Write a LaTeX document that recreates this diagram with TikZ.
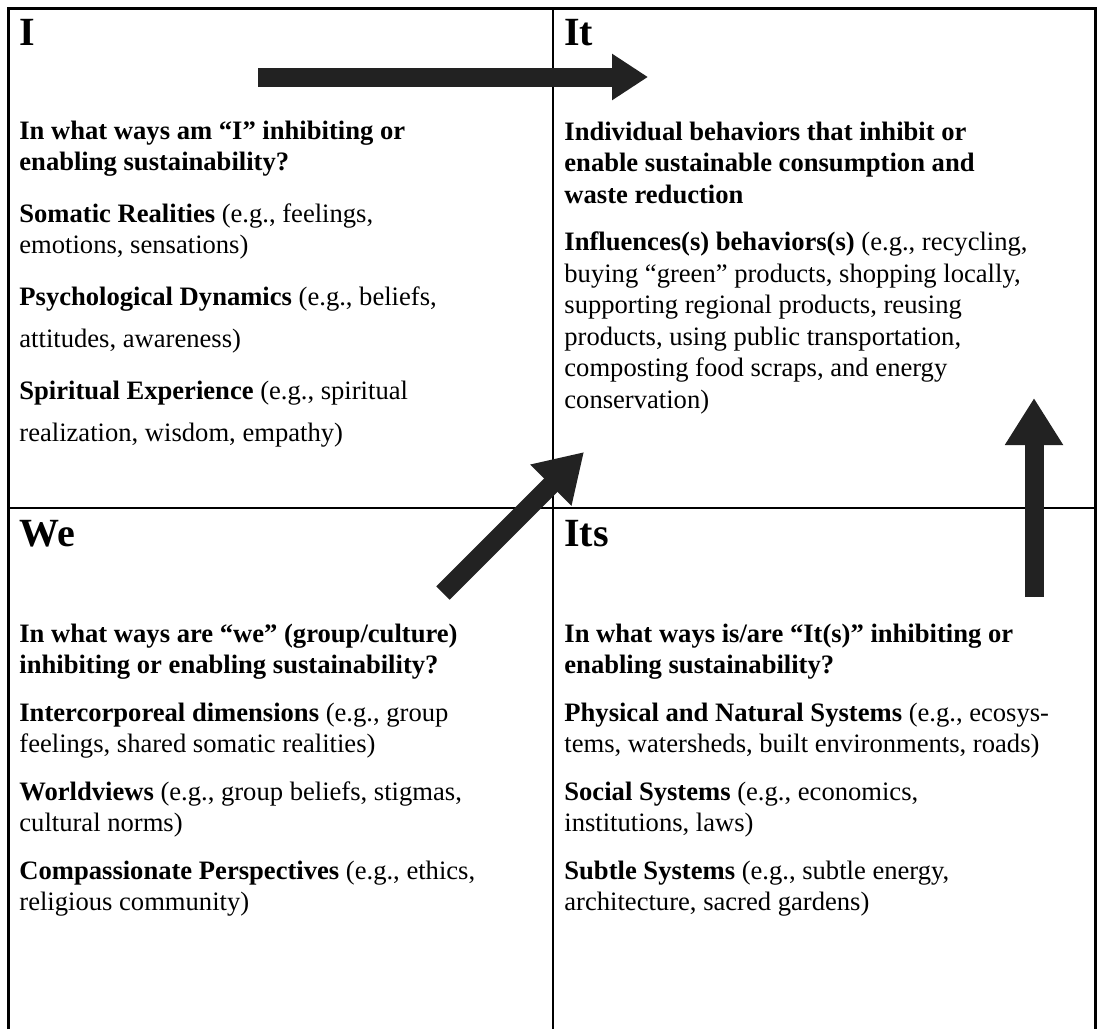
\documentclass[tikz,border=0pt]{standalone}
\usepackage{fontspec}
\setmainfont{Liberation Serif}
\usepackage{xcolor}
\usetikzlibrary{arrows.meta}

\definecolor{arrowgray}{HTML}{222222}

\begin{document}
\begin{tikzpicture}[
      x=0.5pt, y=-0.5pt,
      frame/.style   = {line width=1.5pt, line join=miter},
      divider/.style = {line width=1.2pt},
      title/.style   = {anchor=base west, inner sep=0pt,
                        font=\fontsize{20}{24}\selectfont\bfseries},
      body/.style    = {anchor=north west, inner sep=0pt, align=left,
                        font=\fontsize{13.3}{15.75}\selectfont},
      bigarrow/.style = {draw=arrowgray, fill=arrowgray, line width=9.5pt,
                         -{Triangle[length=23.5pt, width=27.5pt]}}
    ]
    \useasboundingbox (0,0) rectangle (1101,1029);

    % grid of the four quadrants
    \draw[frame]   (8,1029) -- (8,8) -- (1095,8) -- (1095,1029);
    \draw[divider] (553,8) -- (553,1029);
    \draw[divider] (8,508) -- (1095,508);

    % quadrant titles
    \node[title] (tI)   at (19,45)   {I};
    \node[title] (tIt)  at (564,45)  {It};
    \node[title] (tWe)  at (19,546)  {We};
    \node[title] (tIts) at (564,546) {Its};

    % quadrant texts
    \node[body] (bI) at (19,117) {\rule{0pt}{11pt}\textbf{In what ways am “I” inhibiting or}\\
        \textbf{enabling sustainability?}\\[10pt]
        \textbf{Somatic Realities} (e.g., feelings,\\
        emotions, sensations)\\[10pt]
        \textbf{Psychological Dynamics} (e.g., beliefs,\\[5.5pt]
        attitudes, awareness)\\[10pt]
        \textbf{Spiritual Experience} (e.g., spiritual\\[5.5pt]
        realization, wisdom, empathy)};
    \node[body] (bIt) at (564,118) {\rule{0pt}{11pt}\textbf{Individual behaviors that inhibit or}\\
        \textbf{enable sustainable consumption and}\\
        \textbf{waste reduction}\\[8pt]
        \textbf{Influences(s) behaviors(s)} (e.g., recycling,\\
        buying “green” products, shopping locally,\\
        supporting regional products, reusing\\
        products, using public transportation,\\
        composting food scraps, and energy\\
        conservation)};
    \node[body] (bWe) at (19,620) {\rule{0pt}{11pt}\textbf{In what ways are “we” (group/culture)}\\
        \textbf{inhibiting or enabling sustainability?}\\[8pt]
        \textbf{Intercorporeal dimensions} (e.g., group\\
        feelings, shared somatic realities)\\[8pt]
        \textbf{Worldviews} (e.g., group beliefs, stigmas,\\
        cultural norms)\\[8pt]
        \textbf{Compassionate Perspectives} (e.g., ethics,\\
        religious community)};
    \node[body] (bIts) at (564,620) {\rule{0pt}{11pt}\textbf{In what ways is/are “It(s)” inhibiting or}\\
        \textbf{enabling sustainability?}\\[8pt]
        \textbf{Physical and Natural Systems} (e.g., ecosys-\\
        tems, watersheds, built environments, roads)\\[8pt]
        \textbf{Social Systems} (e.g., economics,\\
        institutions, laws)\\[8pt]
        \textbf{Subtle Systems} (e.g., subtle energy,\\
        architecture, sacred gardens)};

    % arrow ends
    \coordinate (fromI)   at (258,77);
    \coordinate (toIt)    at (648,77);
    \coordinate (fromWe)  at (443,593);
    \coordinate (toIt2)   at (584,452);
    \coordinate (fromIts) at (1034,597);
    \coordinate (toIt3)   at (1034,398);

    \draw[bigarrow, -{Triangle[length=18pt, width=22pt]}] (fromI) -- (toIt);
    \draw[bigarrow] (fromWe)  -- (toIt2);
    \draw[bigarrow] (fromIts) -- (toIt3);
\end{tikzpicture}
\end{document}
